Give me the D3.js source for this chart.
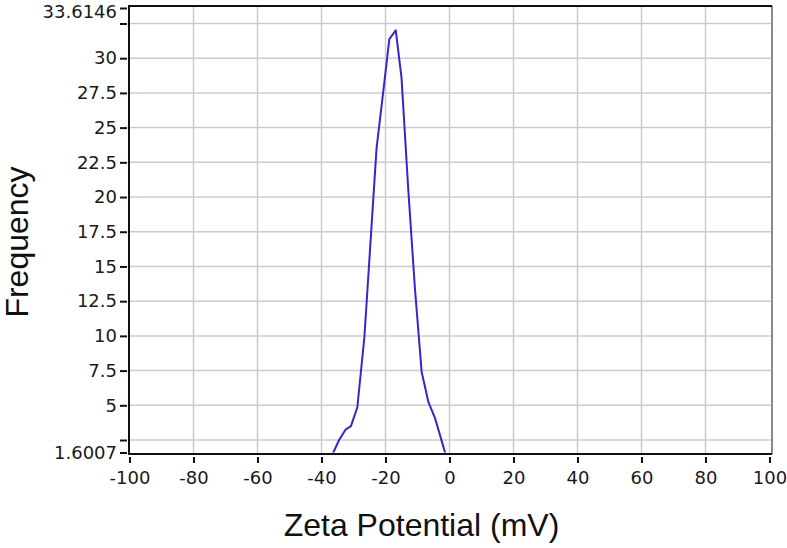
<!DOCTYPE html>
<html><head><meta charset="utf-8">
<script src="https://cdn.jsdelivr.net/npm/d3@7"></script>
<style>body{margin:0;background:#fff}svg{display:block}</style>
</head><body>
<svg id="c" width="787" height="548"></svg>
<script>
// Data
const zeta = [-36.6, -34.5, -32.4, -30.8, -28.8, -26.6, -24.7, -22.8, -20.8, -18.8, -16.8, -15.0, -12.9, -10.8, -8.7, -6.6, -4.5, -1.2];
const freq = [1.45, 2.5, 3.27, 3.5, 4.86, 9.9, 16.7, 23.5, 27.4, 31.37, 32.0146, 28.6, 20.6, 13.4, 7.4, 5.24, 4.06, 1.45];
const xTicks = [-100, -80, -60, -40, -20, 0, 20, 40, 60, 80, 100];
const yGrid = [2.5, 5, 7.5, 10, 12.5, 15, 17.5, 20, 22.5, 25, 27.5, 30, 32.5];
const yLabeled = [1.6007, 5, 7.5, 10, 12.5, 15, 17.5, 20, 22.5, 25, 27.5, 30, 33.6146];
const yMin = 1.6007, yMax = 33.6146;

const svg = d3.select("#c");
const L = 129, T = 6, R = 772, B = 454;
const x = d3.scaleLinear().domain([-100, 100]).range([129.5, 769.5]);
const y = d3.scaleLinear().domain([yMin, yMax]).range([452.5, 8]);
const tickFont = "'DejaVu Sans',sans-serif";
const gridColor = "#cbcbd3";

// grid
svg.append("g").selectAll("line.h").data(yGrid).join("line")
  .attr("x1", L).attr("x2", R).attr("y1", d => y(d)).attr("y2", d => y(d))
  .attr("stroke", gridColor).attr("stroke-width", 1.5);
svg.append("g").selectAll("line.v").data(xTicks.slice(1, -1)).join("line")
  .attr("y1", T).attr("y2", B).attr("x1", d => x(d)).attr("x2", d => x(d))
  .attr("stroke", gridColor).attr("stroke-width", 1.5);

// line
svg.append("clipPath").attr("id", "clip").append("rect")
  .attr("x", L).attr("y", y(yMax)).attr("width", R - L).attr("height", y(yMin) - y(yMax));
const pts = zeta.map((z, i) => [z, freq[i]]);
svg.append("path").datum(pts)
  .attr("clip-path", "url(#clip)")
  .attr("fill", "none").attr("stroke", "#3b22cc").attr("stroke-width", 2)
  .attr("stroke-linejoin", "round")
  .attr("d", d3.line().x(d => x(d[0])).y(d => y(d[1])));

// frame
svg.append("line").attr("x1", R).attr("x2", R).attr("y1", T).attr("y2", B)
  .attr("stroke", "#8a8a8a").attr("stroke-width", 2);
svg.append("path").attr("d", `M${R},${T}H${L}V${B}H${R}`)
  .attr("fill", "none").attr("stroke", "#111").attr("stroke-width", 2);

// y axis ticks
const yAxis = d3.axisLeft(y).tickValues(yGrid.concat([yMin, yMax]))
  .tickSize(7).tickPadding(3)
  .tickFormat(d => yLabeled.includes(d) ? String(d) : "");
const gy = svg.append("g").attr("transform", `translate(${L - 2},0)`).call(yAxis);
gy.select(".domain").remove();
gy.selectAll(".tick line").attr("stroke", "#111").attr("stroke-width", 2);
gy.selectAll(".tick text").attr("font-family", tickFont).attr("font-size", 18)
  .attr("fill", "#1a1a1a");
gy.selectAll(".tick text").filter(d => d === yMax).attr("dy", "0.55em");

// x axis ticks
const xAxis = d3.axisBottom(x).tickValues(xTicks).tickSize(6).tickPadding(8)
  .tickFormat(d => String(d));
const gx = svg.append("g").attr("transform", `translate(0,${B + 3})`).call(xAxis);
gx.select(".domain").remove();
gx.selectAll(".tick line").attr("stroke", "#111").attr("stroke-width", 2);
gx.selectAll(".tick text").attr("font-family", tickFont).attr("font-size", 18)
  .attr("fill", "#1a1a1a");

// titles
svg.append("text").attr("x", 421.5).attr("y", 536).attr("text-anchor", "middle")
  .attr("font-family", "'Liberation Sans',Arial,sans-serif").attr("font-size", 32)
  .attr("fill", "#111").text("Zeta Potential (mV)");
svg.append("text").attr("transform", "translate(28,242) rotate(-90)").attr("text-anchor", "middle")
  .attr("font-family", "'Liberation Sans',Arial,sans-serif").attr("font-size", 32)
  .attr("fill", "#111").text("Frequency");
</script>
</body></html>
